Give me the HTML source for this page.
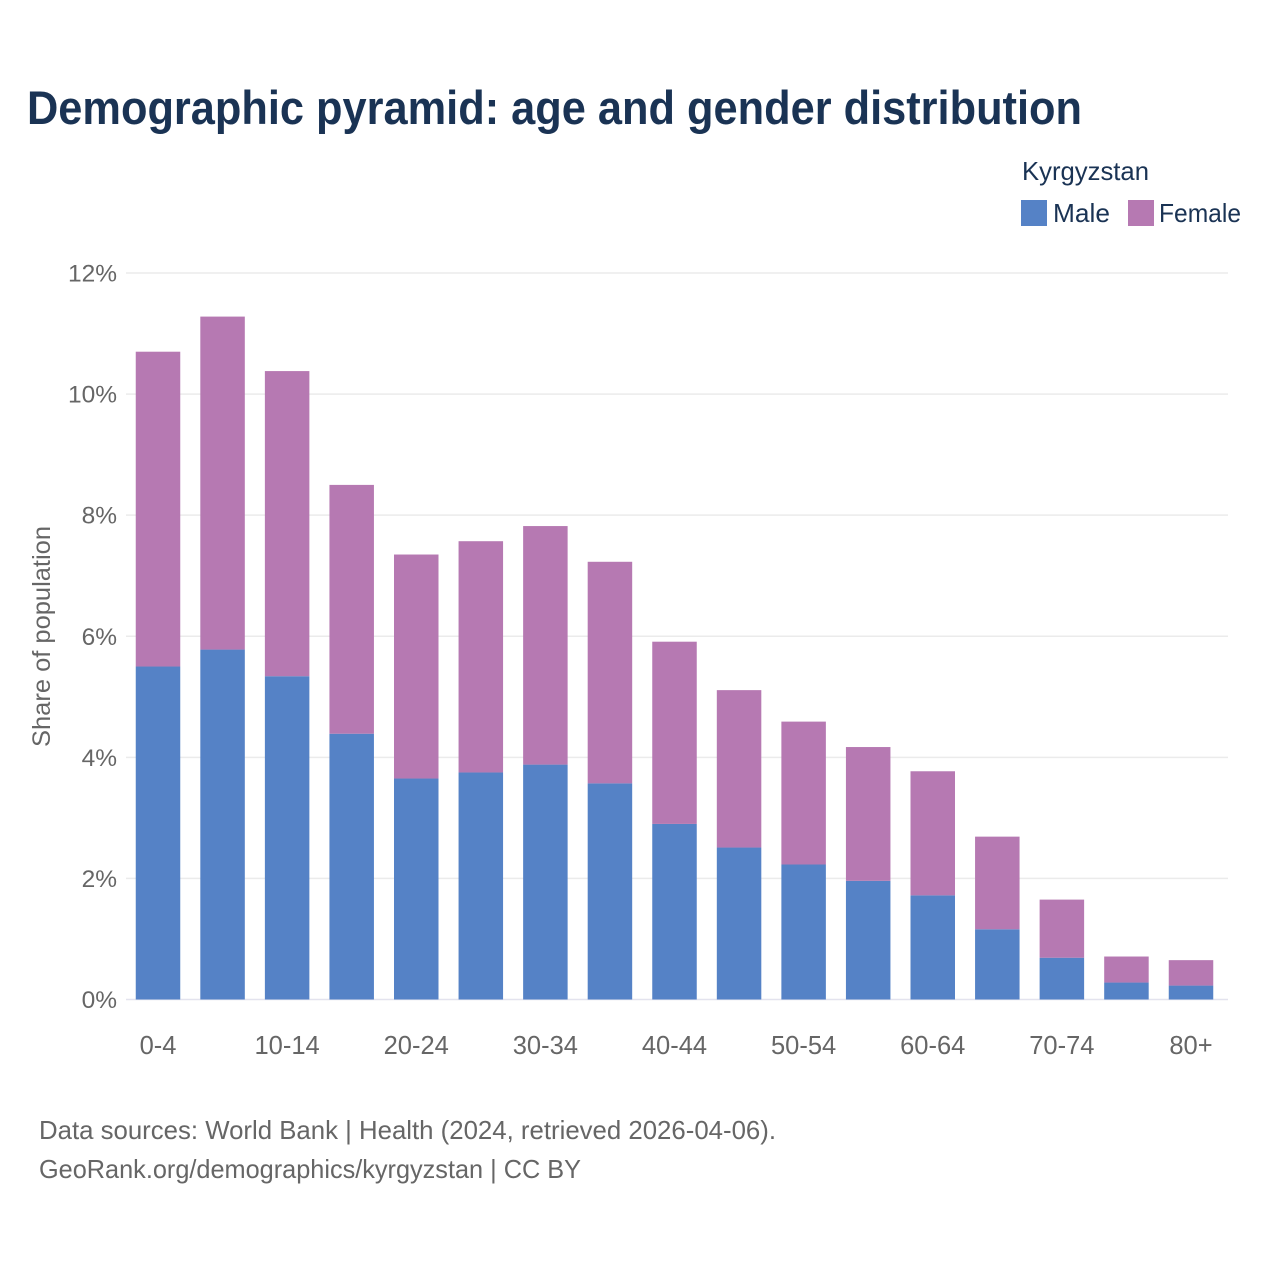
<!DOCTYPE html>
<html lang="en">
<head>
<meta charset="utf-8">
<title>Demographic pyramid: age and gender distribution</title>
<style>
html,body{margin:0;padding:0;background:#fff;width:1280px;height:1280px;overflow:hidden}
svg{display:block}
text{font-family:"Liberation Sans",sans-serif}
</style>
</head>
<body>
<svg id="chart" width="1280" height="1280" viewBox="0 0 1280 1280" xmlns="http://www.w3.org/2000/svg">
  <rect x="0" y="0" width="1280" height="1280" fill="#ffffff"/>
  <text x="27" y="124" font-size="47" font-weight="700" fill="#1a3354" textLength="1055" lengthAdjust="spacingAndGlyphs">Demographic pyramid: age and gender distribution</text>
  <text x="1022" y="180" font-size="26" fill="#1a3354" textLength="127" lengthAdjust="spacingAndGlyphs">Kyrgyzstan</text>
  <rect x="1021" y="200" width="26" height="26" fill="#5582c6"/>
  <text x="1053" y="222" font-size="26" fill="#1a3354" textLength="57" lengthAdjust="spacingAndGlyphs">Male</text>
  <rect x="1128" y="200" width="26" height="26" fill="#b679b2"/>
  <text x="1159" y="222" font-size="26" fill="#1a3354" textLength="82" lengthAdjust="spacingAndGlyphs">Female</text>
  <g id="grid"></g>
  <g id="y-axis"></g>
  <g id="bars"></g>
  <g id="x-axis"></g>
  <text transform="translate(50,636.5) rotate(-90)" text-anchor="middle" font-size="25" fill="#666666" textLength="221" lengthAdjust="spacingAndGlyphs">Share of population</text>
  <text x="39" y="1139" font-size="26" fill="#666666" textLength="737" lengthAdjust="spacingAndGlyphs">Data sources: World Bank | Health (2024, retrieved 2026-04-06).</text>
  <text x="39" y="1178" font-size="26" fill="#666666" textLength="542" lengthAdjust="spacingAndGlyphs">GeoRank.org/demographics/kyrgyzstan | CC BY</text>
</svg>
<script>
const categories = ['0-4','5-9','10-14','15-19','20-24','25-29','30-34','35-39','40-44','45-49','50-54','55-59','60-64','65-69','70-74','75-79','80+'];
const maleValues = [5.50,5.78,5.34,4.39,3.65,3.75,3.88,3.57,2.90,2.51,2.23,1.96,1.72,1.16,0.69,0.28,0.23];
const femaleValues = [5.20,5.50,5.04,4.11,3.70,3.82,3.94,3.66,3.01,2.60,2.36,2.21,2.05,1.53,0.96,0.43,0.42];
const yTickValues = [0,2,4,6,8,10,12];
const xTickLabels = ['0-4','10-14','20-24','30-34','40-44','50-54','60-64','70-74','80+'];

const SVG_NS = 'http://www.w3.org/2000/svg';
const plot = {left:126, right:1228, y0:999.5, y12:273, maxValue:12, firstX:158, lastX:1191, barWidth:44.5};

function yScale(v){
  return plot.y0 - (v / plot.maxValue) * (plot.y0 - plot.y12);
}
function xScale(i){
  return plot.firstX + i * (plot.lastX - plot.firstX) / (categories.length - 1);
}
function make(tag, attrs, parent){
  const el = document.createElementNS(SVG_NS, tag);
  for (const k in attrs) el.setAttribute(k, attrs[k]);
  parent.appendChild(el);
  return el;
}

const grid = document.getElementById('grid');
const yAxis = document.getElementById('y-axis');
const bars = document.getElementById('bars');
const xAxis = document.getElementById('x-axis');

yTickValues.forEach(function(v){
  const line = make('line', {x1:plot.left, x2:plot.right, y1:yScale(v), y2:yScale(v), stroke: v === 0 ? '#e3e3ee' : '#ebebeb', 'stroke-width':1.5}, grid);
  
  
  const label = make('text', {x:117, y:yScale(v) + 8.5, 'text-anchor':'end', 'font-size':24.5, fill:'#666666'}, yAxis);
  
  
  label.textContent = v + '%';
});

categories.forEach(function(cat, i){
  const x = xScale(i) - plot.barWidth / 2;
  const m = maleValues[i];
  const f = femaleValues[i];
  const maleBar = make('rect', {x:x, y:yScale(m), width:plot.barWidth, height:yScale(0) - yScale(m), fill:'#5582c6'}, bars);
  
  
  const femaleBar = make('rect', {x:x, y:yScale(m + f), width:plot.barWidth, height:yScale(m) - yScale(m + f), fill:'#b679b2'}, bars);
  
  
  if (xTickLabels.indexOf(cat) !== -1) {
    const label = make('text', {x:xScale(i), y:1054, 'text-anchor':'middle', 'font-size':25.5, fill:'#666666'}, xAxis);
    
    
    label.textContent = cat;
  }
});
</script>
</body>
</html>
